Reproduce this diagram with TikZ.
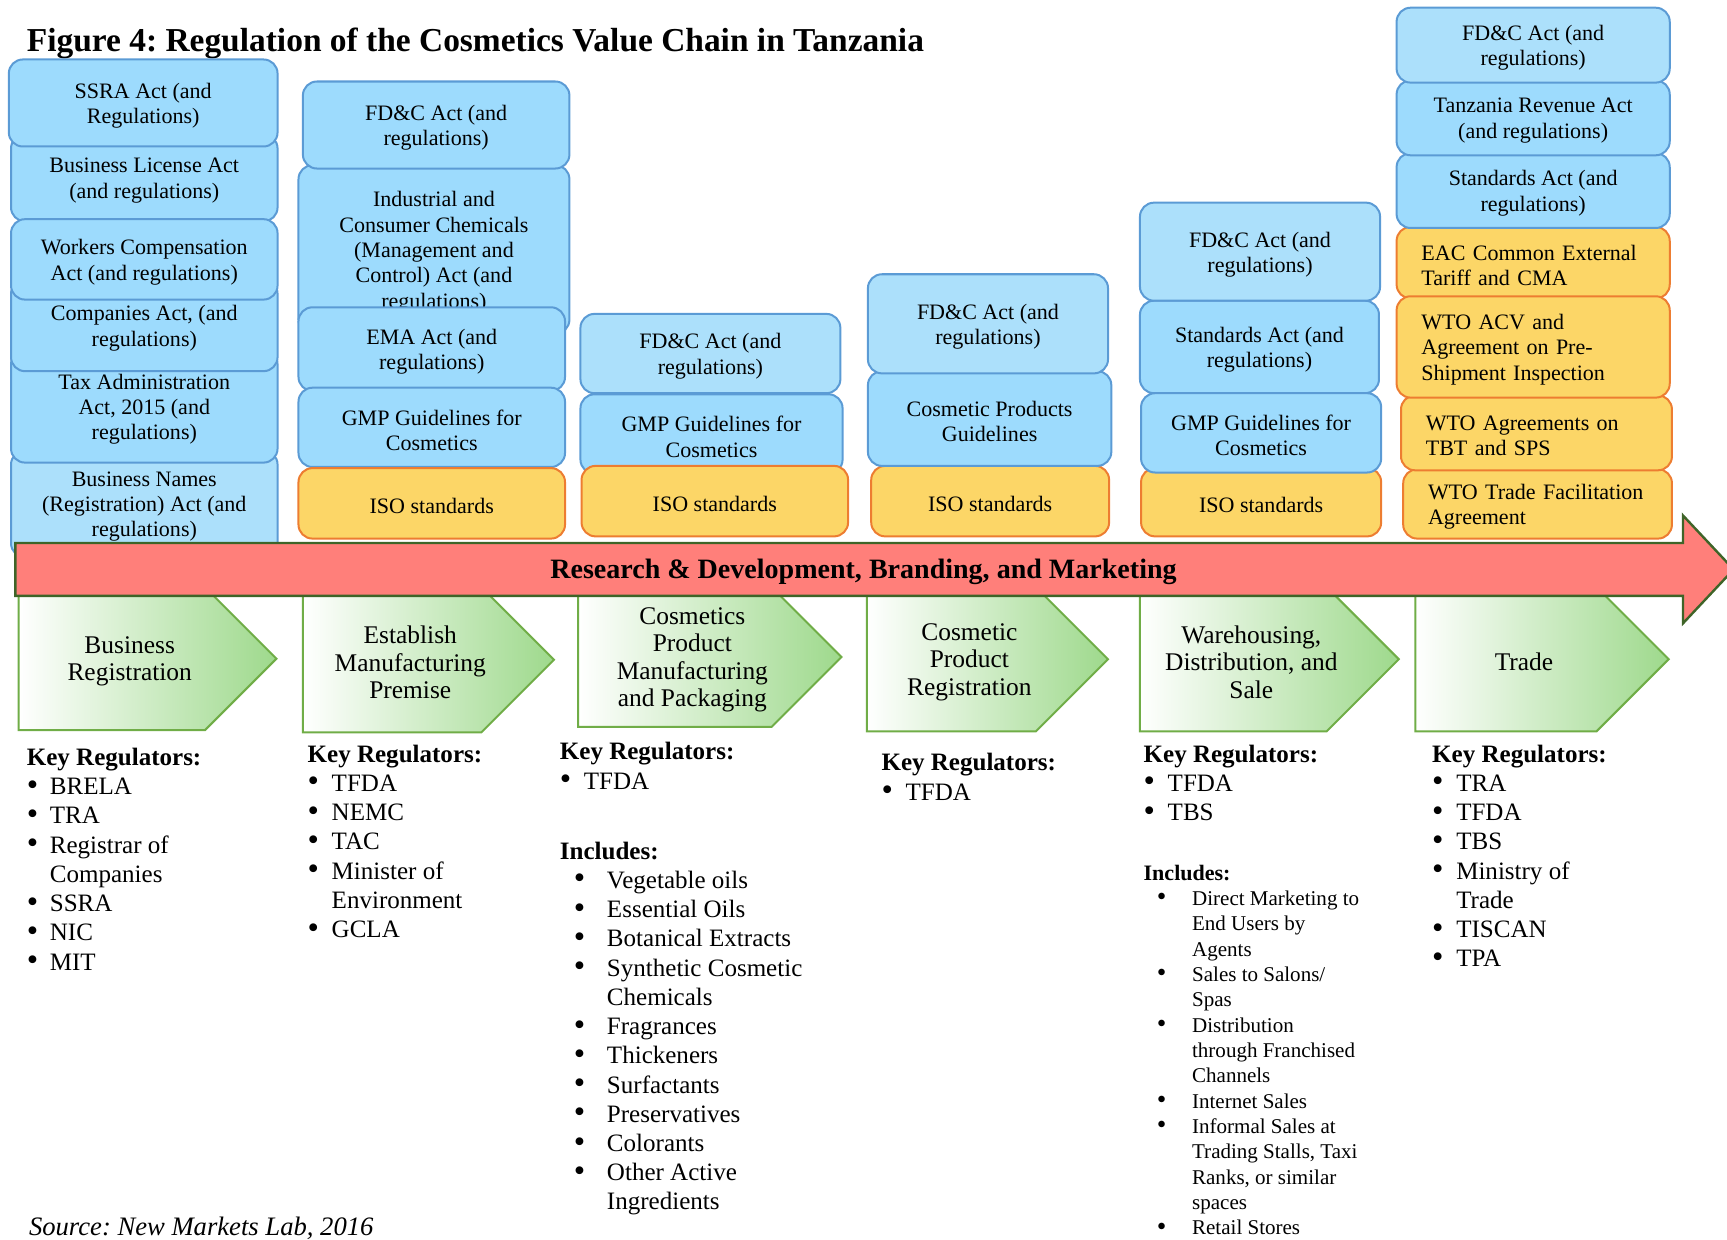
\documentclass[tikz,border=0pt]{standalone}
\usepackage{fontspec}
\usepackage{graphicx}
\setmainfont{Liberation Serif}
\frenchspacing
\definecolor{bfill}{RGB}{157,219,253}
\definecolor{bfillL}{RGB}{172,224,251}
\definecolor{bdraw}{RGB}{91,155,213}
\definecolor{ofill}{RGB}{252,214,103}
\definecolor{odraw}{RGB}{237,125,49}
\definecolor{rfill}{RGB}{255,127,122}
\definecolor{rdraw}{RGB}{63,100,40}
\definecolor{gmid}{RGB}{168,205,147}
\definecolor{gright}{RGB}{158,217,140}
\definecolor{gdraw}{RGB}{112,173,71}
\newcommand{\bx}[7]{%
  \pgfmathsetmacro{\bw}{(#4-#2)*0.55}%
  \pgfmathsetmacro{\bh}{(#5-#3)*0.55}%
  \node[#6, minimum width=\bw pt, minimum height=\bh pt] (#1) at ({(#2+#4)/2},{(#3+#5)/2}) {};
  \node[boxtext] (#1-t) at ({(#2+#4)/2},{(#3+#5)/2+2.5}) {#7};}
\newcommand{\bxl}[7]{%
  \pgfmathsetmacro{\bw}{(#4-#2)*0.55}%
  \pgfmathsetmacro{\bh}{(#5-#3)*0.55}%
  \pgfmathsetmacro{\tw}{(#4-#2)*0.55-24.8}%
  \node[#6, minimum width=\bw pt, minimum height=\bh pt] (#1) at ({(#2+#4)/2},{(#3+#5)/2}) {};
  \node[boxtext, text width=\tw pt, align=left] (#1-t) at ({(#2+#4)/2},{(#3+#5)/2+2.5}) {#7};}
\newcommand{\chev}[6]{%
  \pgfmathsetmacro{\cmid}{(#4+#5)/2}%
  \pgfmathsetmacro{\ccor}{#3-(#5-#4)/2}%
  \pgfmathsetmacro{\ctx}{(#2+(\ccor+#3)/2)/2}%
  \shadedraw[chevshape] (#2,#4) -- (\ccor,#4) -- (#3,\cmid) -- (\ccor,#5) -- (#2,#5) -- cycle;
  \node[chevtext] (#1) at (\ctx,\cmid+2.5) {#6};}
\newcommand{\bu}[1]{\makebox[#1][l]{\raisebox{-0.05ex}{\scalebox{1.3}{\textbullet}}}}
\begin{document}
\begin{tikzpicture}[x=0.55pt,y=-0.55pt,
  boxbase/.style={rounded corners=7pt, line width=1pt, inner sep=0pt, outer sep=0pt},
  boxtext/.style={inner sep=0pt, align=center, font=\fontsize{11}{12.65}\selectfont},
  bbox/.style={boxbase, draw=bdraw, fill=bfill},
  bboxL/.style={boxbase, draw=bdraw, fill=bfillL},
  obox/.style={boxbase, draw=odraw, fill=ofill},
  chevshape/.style={left color=white, middle color=gmid, right color=gright, draw=gdraw, line width=1pt},
  chevtext/.style={align=center, inner sep=0pt, font=\fontsize{12.7}{13.75}\selectfont},
  lst/.style={anchor=base west, inner sep=0pt, font=\fontsize{12.5}{14.6}\selectfont},
  lsts/.style={anchor=base west, inner sep=0pt, font=\fontsize{10.5}{12.65}\selectfont}]
\useasboundingbox (0,0) rectangle (1568,1125);

\node[anchor=base west, inner sep=0pt, font=\bfseries\fontsize{16.7}{19}\selectfont] (title) at (24,47) {Figure 4: Regulation of the Cosmetics Value Chain in Tanzania};

% column 1
\bx{bn}{10}{409}{252}{506}{bboxL}{Business Names\\(Registration) Act (and\\regulations)}
\bx{tax}{10}{318}{252}{420}{bbox}{Tax Administration\\Act, 2015 (and\\regulations)}
\bx{comp}{10}{254}{252}{337}{bbox}{Companies Act, (and\\regulations)}
\bx{blic}{10}{122}{252}{201}{bbox}{Business License Act\\(and regulations)}
\bx{wc}{10}{199}{252}{272}{bbox}{Workers Compensation\\Act (and regulations)}
\bx{ssra}{8}{54}{252}{133}{bbox}{SSRA Act (and\\Regulations)}

% column 2
\bx{ind}{271}{150}{517}{303}{bbox}{Industrial and\\Consumer Chemicals\\(Management and\\Control) Act (and\\regulations)}
\bx{fdc2}{275}{74}{517}{153}{bbox}{FD\&C Act (and\\regulations)}
\bx{ema}{271}{279}{513}{355}{bbox}{EMA Act (and\\regulations)}
\bx{gmp2}{271}{352}{513}{424}{bbox}{GMP Guidelines for\\Cosmetics}
\bx{iso2}{271}{425}{513}{489}{obox}{ISO standards}

% column 3
\bx{fdc3}{527}{285}{763}{357}{bboxL}{FD\&C Act (and\\regulations)}
\bx{gmp3}{527}{358}{765}{430}{bbox}{GMP Guidelines for\\Cosmetics}
\bx{iso3}{528}{423}{770}{487}{obox}{ISO standards}

% column 4
\bx{iso4}{791}{423}{1007}{487}{obox}{ISO standards}
\bx{cpg}{788}{337}{1009}{423}{bbox}{Cosmetic Products\\Guidelines}
\bx{fdc4}{788}{249}{1006}{339}{bboxL}{FD\&C Act (and\\regulations)}

% column 5
\bx{iso5}{1036}{425}{1254}{487}{obox}{ISO standards}
\bx{std5}{1035}{273}{1252}{357}{bbox}{Standards Act (and\\regulations)}
\bx{gmp5}{1036}{357}{1254}{429}{bbox}{GMP Guidelines for\\Cosmetics}
\bx{fdc5}{1035}{184}{1253}{273}{bboxL}{FD\&C Act (and\\regulations)}

% column 6
\bxl{tfa}{1274}{426}{1518}{489}{obox}{WTO Trade Facilitation\\Agreement}
\bxl{tbt}{1272}{359}{1518}{427}{obox}{WTO Agreements on\\TBT and SPS}
\bxl{eac}{1268}{206}{1516}{271}{obox}{EAC Common External\\Tariff and CMA}
\bxl{acv}{1268}{269}{1516}{361}{obox}{WTO ACV and\\Agreement on Pre-\\Shipment Inspection}
\bx{std6}{1268}{139}{1516}{207}{bbox}{Standards Act (and\\regulations)}
\bx{tra6}{1268}{73}{1516}{141}{bbox}{Tanzania Revenue Act\\(and regulations)}
\bx{fdc6}{1268}{7}{1516}{75}{bboxL}{FD\&C Act (and\\regulations)}

% chevrons
\chev{c1}{17}{251}{533}{663}{Business\\Registration}
\chev{c2}{275}{503}{533}{665}{Establish\\Manufacturing\\Premise}
\chev{c3}{525}{764}{533}{660}{Cosmetics\\Product\\Manufacturing\\and Packaging}
\chev{c4}{787}{1006}{533}{664}{Cosmetic\\Product\\Registration}
\chev{c5}{1035}{1270}{533}{664}{Warehousing,\\Distribution, and\\Sale}
\chev{c6}{1285}{1515}{533}{664}{Trade}

% red arrow
\filldraw[fill=rfill, draw=rdraw, line width=1.2pt] (14,493) -- (1528,493) -- (1528,468) -- (1574,517) -- (1528,566) -- (1528,541) -- (14,541) -- cycle;
\node[inner sep=0pt, font=\bfseries\fontsize{14}{16}\selectfont] (rdtext) at (784,519) {Research \& Development, Branding, and Marketing};

% lists
\node[lst] (kr1) at (24,695) {\begin{tabular}[t]{@{}l@{}l@{}}
\multicolumn{2}{@{}l@{}}{\textbf{Key Regulators:}}\\
\bu{11.5pt}&BRELA\\
\bu{11.5pt}&TRA\\
\bu{11.5pt}&Registrar of\\
&Companies\\
\bu{11.5pt}&SSRA\\
\bu{11.5pt}&NIC\\
\bu{11.5pt}&MIT
\end{tabular}};

\node[lst] (kr2) at (279,692) {\begin{tabular}[t]{@{}l@{}l@{}}
\multicolumn{2}{@{}l@{}}{\textbf{Key Regulators:}}\\
\bu{12pt}&TFDA\\
\bu{12pt}&NEMC\\
\bu{12pt}&TAC\\
\bu{12pt}&Minister of\\
&Environment\\
\bu{12pt}&GCLA
\end{tabular}};

\node[lst] (kr3) at (508,690) {\begin{tabular}[t]{@{}l@{}l@{}}
\multicolumn{2}{@{}l@{}}{\textbf{Key Regulators:}}\\
\bu{12pt}&TFDA
\end{tabular}};

\node[lst] (inc3) at (508,780) {\begin{tabular}[t]{@{}l@{}l@{}}
\multicolumn{2}{@{}l@{}}{\textbf{Includes:}}\\
\hspace*{7pt}\bu{16.5pt}&Vegetable oils\\
\hspace*{7pt}\bu{16.5pt}&Essential Oils\\
\hspace*{7pt}\bu{16.5pt}&Botanical Extracts\\
\hspace*{7pt}\bu{16.5pt}&Synthetic Cosmetic\\
&Chemicals\\
\hspace*{7pt}\bu{16.5pt}&Fragrances\\
\hspace*{7pt}\bu{16.5pt}&Thickeners\\
\hspace*{7pt}\bu{16.5pt}&Surfactants\\
\hspace*{7pt}\bu{16.5pt}&Preservatives\\
\hspace*{7pt}\bu{16.5pt}&Colorants\\
\hspace*{7pt}\bu{16.5pt}&Other Active\\
&Ingredients
\end{tabular}};

\node[lst] (kr4) at (800,700) {\begin{tabular}[t]{@{}l@{}l@{}}
\multicolumn{2}{@{}l@{}}{\textbf{Key Regulators:}}\\
\bu{12pt}&TFDA
\end{tabular}};

\node[lst] (kr5) at (1038,692) {\begin{tabular}[t]{@{}l@{}l@{}}
\multicolumn{2}{@{}l@{}}{\textbf{Key Regulators:}}\\
\bu{12pt}&TFDA\\
\bu{12pt}&TBS
\end{tabular}};

\node[lsts] (inc5) at (1038,799) {\begin{tabular}[t]{@{}l@{}l@{}}
\multicolumn{2}{@{}l@{}}{\textbf{\fontsize{11}{12.65}\selectfont Includes:}}\\
\hspace*{6.6pt}\bu{17.6pt}&Direct Marketing to\\
&End Users by\\
&Agents\\
\hspace*{6.6pt}\bu{17.6pt}&Sales to Salons/\\
&Spas\\
\hspace*{6.6pt}\bu{17.6pt}&Distribution\\
&through Franchised\\
&Channels\\
\hspace*{6.6pt}\bu{17.6pt}&Internet Sales\\
\hspace*{6.6pt}\bu{17.6pt}&Informal Sales at\\
&Trading Stalls, Taxi\\
&Ranks, or similar\\
&spaces\\
\hspace*{6.6pt}\bu{17.6pt}&Retail Stores
\end{tabular}};

\node[lst] (kr6) at (1300,692) {\begin{tabular}[t]{@{}l@{}l@{}}
\multicolumn{2}{@{}l@{}}{\textbf{Key Regulators:}}\\
\bu{12pt}&TRA\\
\bu{12pt}&TFDA\\
\bu{12pt}&TBS\\
\bu{12pt}&Ministry of\\
&Trade\\
\bu{12pt}&TISCAN\\
\bu{12pt}&TPA
\end{tabular}};

\node[anchor=base west, inner sep=0pt, font=\itshape\fontsize{13.3}{15}\selectfont] (src) at (26,1122) {Source: New Markets Lab, 2016};
\end{tikzpicture}
\end{document}
